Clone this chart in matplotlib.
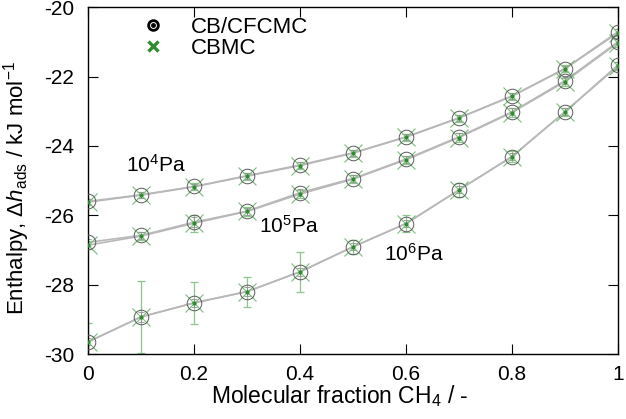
import numpy as np
import matplotlib
matplotlib.use("Agg")
import matplotlib.pyplot as plt
from matplotlib.lines import Line2D

plt.rcParams['font.family'] = ['Liberation Sans', 'DejaVu Sans']
plt.rcParams['mathtext.fontset'] = 'custom'
plt.rcParams['mathtext.rm'] = 'Liberation Sans'
plt.rcParams['mathtext.it'] = 'Liberation Sans:italic'
plt.rcParams['axes.unicode_minus'] = False

x = [0.0, 0.1, 0.2, 0.3, 0.4, 0.5, 0.6, 0.7, 0.8, 0.9, 1.0]

# CB/CFCMC
cf_1e4 = [-25.60, -25.41, -25.17, -24.86, -24.55, -24.20, -23.74, -23.19, -22.56, -21.77, -20.71]
cf_1e5 = [-26.78, -26.58, -26.20, -25.88, -25.35, -24.94, -24.38, -23.74, -23.02, -22.12, -21.00]
cf_1e6 = [-29.65, -28.93, -28.52, -28.20, -27.63, -26.91, -26.24, -25.27, -24.31, -23.02, -21.67]
cf_err_1e4 = [0.08, 0.08, 0.08, 0.08, 0.08, 0.08, 0.08, 0.08, 0.08, 0.08, 0.08]
cf_err_1e5 = [0.10, 0.10, 0.15, 0.10, 0.10, 0.10, 0.10, 0.10, 0.10, 0.10, 0.10]
cf_err_1e6 = [0.10, 0.15, 0.12, 0.12, 0.12, 0.10, 0.10, 0.10, 0.10, 0.10, 0.10]

# CBMC
cb_1e4 = [-25.62, -25.42, -25.18, -24.87, -24.57, -24.21, -23.75, -23.20, -22.57, -21.78, -20.74]
cb_1e5 = [-26.86, -26.60, -26.23, -25.89, -25.39, -24.96, -24.40, -23.76, -23.04, -22.15, -21.03]
cb_1e6 = [-29.65, -28.93, -28.53, -28.20, -27.63, -26.91, -26.24, -25.27, -24.31, -23.02, -21.70]
cb_err_1e4 = [0.08, 0.08, 0.10, 0.10, 0.10, 0.10, 0.10, 0.10, 0.10, 0.10, 0.10]
cb_err_1e5 = [0.12, 0.12, 0.25, 0.12, 0.12, 0.12, 0.12, 0.12, 0.12, 0.12, 0.12]
cb_err_1e6 = [0.55, 1.05, 0.60, 0.43, 0.58, 0.20, 0.25, 0.20, 0.15, 0.12, 0.12]

fig = plt.figure(figsize=(6.26, 4.19), dpi=100)
ax = fig.add_axes([0.1406, 0.155, 0.8464, 0.828])

line_col = '#b8b8b8'
green = '#2e8b2e'

for yv, ev in [(cb_1e4, cb_err_1e4), (cb_1e5, cb_err_1e5), (cb_1e6, cb_err_1e6)]:
    ax.plot(x, yv, color=line_col, lw=1.2, zorder=1)
    ax.errorbar(x, yv, yerr=ev, fmt='none', ecolor='#8cc68c', elinewidth=0.9,
                capsize=3, capthick=0.9, zorder=2)
    ax.plot(x, yv, ls='none', marker='x', ms=13, mew=0.8, color='#7cbc7c', zorder=3)
    ax.plot(x, yv, ls='none', marker='.', ms=4, color=green, zorder=5)

for yv, ev in [(cf_1e4, cf_err_1e4), (cf_1e5, cf_err_1e5), (cf_1e6, cf_err_1e6)]:
    ax.plot(x, yv, color=line_col, lw=1.2, zorder=1)
    ax.errorbar(x, yv, yerr=ev, fmt='none', ecolor='#909090', elinewidth=0.6,
                capsize=2.5, capthick=0.6, zorder=2)
    ax.plot(x, yv, ls='none', marker='o', ms=10.5, mfc='none', mew=0.7, mec='#5a5a5a', zorder=4)

ax.text(0.072, -24.55, r'10$^4$Pa', fontsize=15, va='center', ha='left')
ax.text(0.322, -26.30, r'10$^5$Pa', fontsize=15, va='center', ha='left')
ax.text(0.558, -27.10, r'10$^6$Pa', fontsize=15, va='center', ha='left')

handles = [
    (Line2D([], [], ls='none', marker='o', ms=7, mfc='none', mec='black', mew=2.0),
     Line2D([], [], ls='none', marker='o', ms=2.5, color='black')),
    Line2D([], [], ls='none', marker='x', ms=7, mec=green, mew=2.4),
]
leg = ax.legend(handles, ['CB/CFCMC', 'CBMC'], loc='upper left', bbox_to_anchor=(0.06, 1.03),
                frameon=False, fontsize=16, handletextpad=1.1, labelspacing=0.0, handlelength=1.2)

ax.set_xlim(0, 1)
ax.set_ylim(-30, -20)
ax.set_xticks([0, 0.2, 0.4, 0.6, 0.8, 1.0])
ax.set_xticklabels(['0', '0.2', '0.4', '0.6', '0.8', '1'])
ax.set_yticks([-30, -28, -26, -24, -22, -20])
ax.tick_params(direction='in', top=True, right=True, labelsize=15, length=7, width=0.8)
ax.tick_params(axis='x', pad=8)
ax.tick_params(axis='y', pad=10)
for s in ax.spines.values():
    s.set_linewidth(1.0)

ax.set_xlabel(r'Molecular fraction CH$_4$ / -', fontsize=16.5)
ax.set_ylabel(r'Enthalpy, $\Delta$$\it{h}$$_\mathrm{ads}$ / kJ mol$^{\mathrm{-1}}$', fontsize=16)
ax.xaxis.set_label_coords(0.475, -0.085)
ax.yaxis.set_label_coords(-0.106, 0.478)

fig.savefig('out.png', dpi=100)
